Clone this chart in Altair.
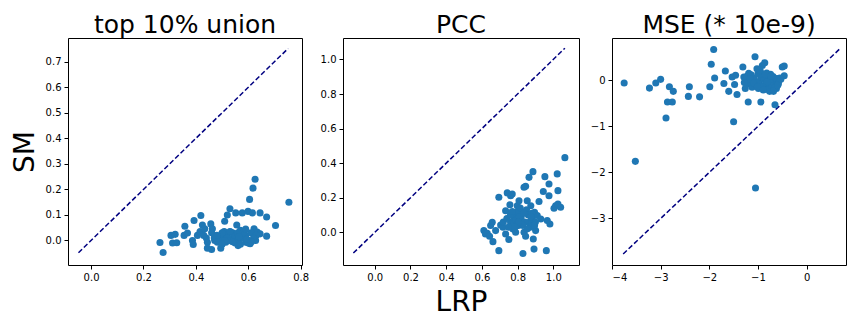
import altair as alt
import pandas as pd

# ---- Panel 1: top 10% union ----
p1_x = [0.263, 0.275, 0.305, 0.311, 0.321, 0.327, 0.358, 0.355, 0.368, 0.387, 0.390, 0.393,
        0.406, 0.416, 0.419, 0.425, 0.434, 0.444, 0.444, 0.457, 0.460, 0.463, 0.472, 0.482,
        0.495, 0.501, 0.508, 0.510, 0.514, 0.520, 0.530, 0.520, 0.533, 0.539, 0.552, 0.556,
        0.561, 0.571, 0.577, 0.584, 0.590, 0.599, 0.605, 0.607, 0.616, 0.618, 0.626, 0.622,
        0.628, 0.634, 0.645, 0.645, 0.670, 0.670, 0.704, 0.755,
        0.470, 0.490, 0.500, 0.520, 0.530, 0.540, 0.550, 0.560, 0.570, 0.580, 0.590, 0.600,
        0.610, 0.600, 0.550, 0.510, 0.480, 0.460, 0.580, 0.630, 0.560, 0.530, 0.570, 0.590,
        0.620, 0.440, 0.430, 0.500, 0.540, 0.565, 0.595, 0.612]
p1_y = [-0.008, -0.047, 0.020, -0.010, 0.024, -0.009, 0.056, 0.020, 0.029, 0.000, -0.016, 0.078,
        0.020, 0.035, 0.098, 0.061, 0.046, -0.007, -0.030, 0.065, -0.035, 0.046, 0.000, -0.007,
        -0.030, 0.020, 0.035, 0.075, -0.007, 0.100, 0.124, 0.020, 0.033, 0.006, 0.108, 0.061,
        -0.020, 0.020, 0.108, 0.035, -0.007, 0.114, 0.161, -0.013, 0.108, 0.205, 0.240, 0.046,
        0.000, 0.033, 0.108, 0.026, 0.092, 0.017, 0.059, 0.150,
        0.010, 0.000, 0.030, 0.010, 0.000, 0.030, 0.020, 0.000, 0.040, 0.010, 0.020, 0.000,
        0.030, -0.010, -0.010, 0.000, 0.020, 0.030, 0.030, 0.020, 0.030, 0.035, -0.015, 0.045,
        0.010, 0.010, 0.020, -0.015, -0.005, 0.015, 0.005, -0.005]
p1_line = [-0.048, 0.752]

# ---- Panel 2: PCC ----
p2_x = [0.611, 0.620, 0.630, 0.643, 0.649, 0.658, 0.662, 0.677, 0.695, 0.695, 0.705, 0.718,
        0.733, 0.733, 0.742, 0.751, 0.757, 0.761, 0.770, 0.761, 0.774, 0.779, 0.789, 0.789,
        0.798, 0.804, 0.808, 0.818, 0.826, 0.830, 0.836, 0.836, 0.845, 0.854, 0.845, 0.864,
        0.864, 0.874, 0.882, 0.886, 0.888, 0.892, 0.895, 0.901, 0.910, 0.920, 0.930, 0.944,
        0.953, 0.961, 0.966, 0.976, 0.976, 0.981, 1.004, 1.013, 1.022, 1.026, 1.026, 1.041,
        1.065,
        0.720, 0.740, 0.760, 0.780, 0.800, 0.820, 0.840, 0.850, 0.860, 0.870, 0.880, 0.900,
        0.750, 0.770, 0.790, 0.810, 0.830, 0.815, 0.855, 0.875, 0.895, 0.835, 0.805, 0.785]
p2_y = [0.010, -0.010, -0.005, -0.023, 0.039, 0.058, -0.054, 0.010, 0.203, -0.106, 0.042, 0.029,
        0.125, -0.010, 0.228, -0.042, 0.160, 0.212, 0.222, 0.058, 0.019, 0.077, 0.106, 0.000,
        0.154, 0.039, 0.183, 0.077, 0.116, -0.122, 0.000, 0.261, 0.266, 0.183, -0.023, 0.318,
        0.058, 0.154, 0.077, 0.351, -0.039, -0.097, 0.116, 0.010, 0.097, 0.178, 0.077, 0.236,
        0.322, -0.106, 0.068, 0.280, 0.212, 0.048, 0.139, 0.154, 0.338, 0.241, 0.164, 0.145,
        0.432,
        0.060, 0.080, 0.100, 0.050, 0.120, 0.090, 0.060, 0.130, 0.100, 0.030, 0.110, 0.060,
        0.030, 0.120, 0.070, 0.090, 0.040, 0.140, 0.020, 0.090, 0.040, 0.110, 0.060, 0.030]
p2_line = [-0.12, 1.065]

# ---- Panel 3: MSE (* 10e-9) ----
p3_x = [-3.75, -3.52, -3.23, -3.10, -3.00, -2.89, -2.86, -2.82, -2.76, -2.74, -2.43, -2.41,
        -2.20, -1.99, -1.96, -1.91, -1.89, -1.70, -1.67, -1.60, -1.53, -1.50, -1.48, -1.46,
        -1.43, -1.31, -1.29, -1.26, -1.20, -1.19, -1.15, -1.10, -1.06, -1.05, -1.02, -0.99,
        -0.94, -0.94, -0.91, -0.88, -0.86, -0.83, -0.79, -0.76, -0.74, -0.70, -0.67, -0.65,
        -0.62, -0.60, -0.57, -0.50, -0.46, -0.46,
        -1.25, -1.22, -1.18, -1.14, -1.12, -1.08, -1.04, -1.00, -0.97, -0.95, -0.92, -0.90,
        -0.87, -0.84, -0.82, -0.80, -0.78, -0.75, -0.72, -0.69, -0.66, -0.63, -0.58, -0.55,
        -1.16, -1.09, -1.01, -0.96, -0.89, -0.85, -0.81, -0.73, -0.68, -0.59, -1.28, -0.53]
p3_y = [-0.06, -1.76, -0.17, -0.06, 0.02, -0.82, -0.47, -0.14, -0.47, -0.24, -0.35, -0.14,
        -0.36, -0.14, 0.35, 0.67, 0.05, -0.07, 0.20, -0.24, 0.07, -0.90, -0.09, 0.11,
        -0.31, 0.29, 0.07, -0.18, -0.47, 0.15, -0.04, 0.04, 0.51, -2.34, 0.25, -0.18,
        -0.47, 0.07, 0.32, 0.10, 0.38, 0.11, -0.14, -0.24, 0.13, 0.00, -0.11, -0.53,
        -0.18, 0.03, 0.00, 0.29, 0.31, 0.10,
        0.00, 0.09, -0.08, 0.12, -0.15, 0.05, -0.11, 0.14, -0.02, 0.19, 0.06, -0.13,
        0.02, -0.05, 0.16, -0.20, 0.06, 0.01, -0.12, 0.08, -0.17, 0.04, -0.07, 0.05,
        0.03, -0.06, -0.14, 0.22, -0.21, 0.13, -0.03, 0.09, -0.24, -0.10, -0.05, 0.02]
p3_line = [-3.77, 0.69]

titles = ["top 10% union", "PCC", "MSE (* 10e-9)"]

BLUE = "#1f77b4"
NAVY = "#000080"
H = 227


def panel(xs, ys, line, xdom, ydom, xticks, yticks, fmt, title, width, xtitle=None, ytitle=None):
    df = pd.DataFrame({"x": xs, "y": ys})
    ldf = pd.DataFrame({"x": line, "y": line})
    xaxis = alt.Axis(values=xticks, format=fmt, grid=False, title=xtitle)
    yaxis = alt.Axis(values=yticks, format=fmt, grid=False, title=ytitle)
    xs_ = alt.Scale(domain=xdom, nice=False, zero=False)
    ys_ = alt.Scale(domain=ydom, nice=False, zero=False)
    ln = alt.Chart(ldf).mark_line(color=NAVY, strokeDash=[5, 2.5], strokeWidth=1.5, clip=True).encode(
        x=alt.X("x:Q", scale=xs_, axis=xaxis),
        y=alt.Y("y:Q", scale=ys_, axis=yaxis),
    )
    pts = alt.Chart(df).mark_circle(size=50, color=BLUE, opacity=1).encode(
        x=alt.X("x:Q", scale=xs_, axis=xaxis),
        y=alt.Y("y:Q", scale=ys_, axis=yaxis),
    )
    return alt.layer(ln, pts).properties(
        width=width, height=H,
        title=alt.TitleParams(title, fontSize=25, font="DejaVu Sans",
                              fontWeight="normal", color="black", offset=0)
    )


c1 = panel(p1_x, p1_y, p1_line, [-0.088, 0.805], [-0.096, 0.793],
           [0.0, 0.2, 0.4, 0.6, 0.8], [0.0, 0.1, 0.2, 0.3, 0.4, 0.5, 0.6, 0.7], ".1f",
           titles[0], 234, ytitle="SM")
c2 = panel(p2_x, p2_y, p2_line, [-0.178, 1.144], [-0.189, 1.124],
           [0.0, 0.2, 0.4, 0.6, 0.8, 1.0], [0.0, 0.2, 0.4, 0.6, 0.8, 1.0], ".1f",
           titles[1], 236, xtitle="LRP")
c3 = panel(p3_x, p3_y, p3_line, [-4.0, 0.81], [-4.01, 0.918],
           [-4, -3, -2, -1, 0], [-3, -2, -1, 0], "d", titles[2], 234)

chart = alt.hconcat(c1, c2, c3, spacing=9).properties(
    background="white",
    padding={"left": 2, "top": 4, "right": 5, "bottom": 0},
).configure_view(
    stroke="black", strokeWidth=1
).configure_axis(
    domain=False, tickColor="black", tickSize=4, tickWidth=1, labelPadding=3,
    labelFont="DejaVu Sans", labelFontSize=10, labelColor="black",
    titleFont="DejaVu Sans", titleFontSize=28, titleFontWeight="normal", titleColor="black",
    titlePadding=6,
)

chart.save("out.html", embed_options={"renderer": "svg", "actions": False})
